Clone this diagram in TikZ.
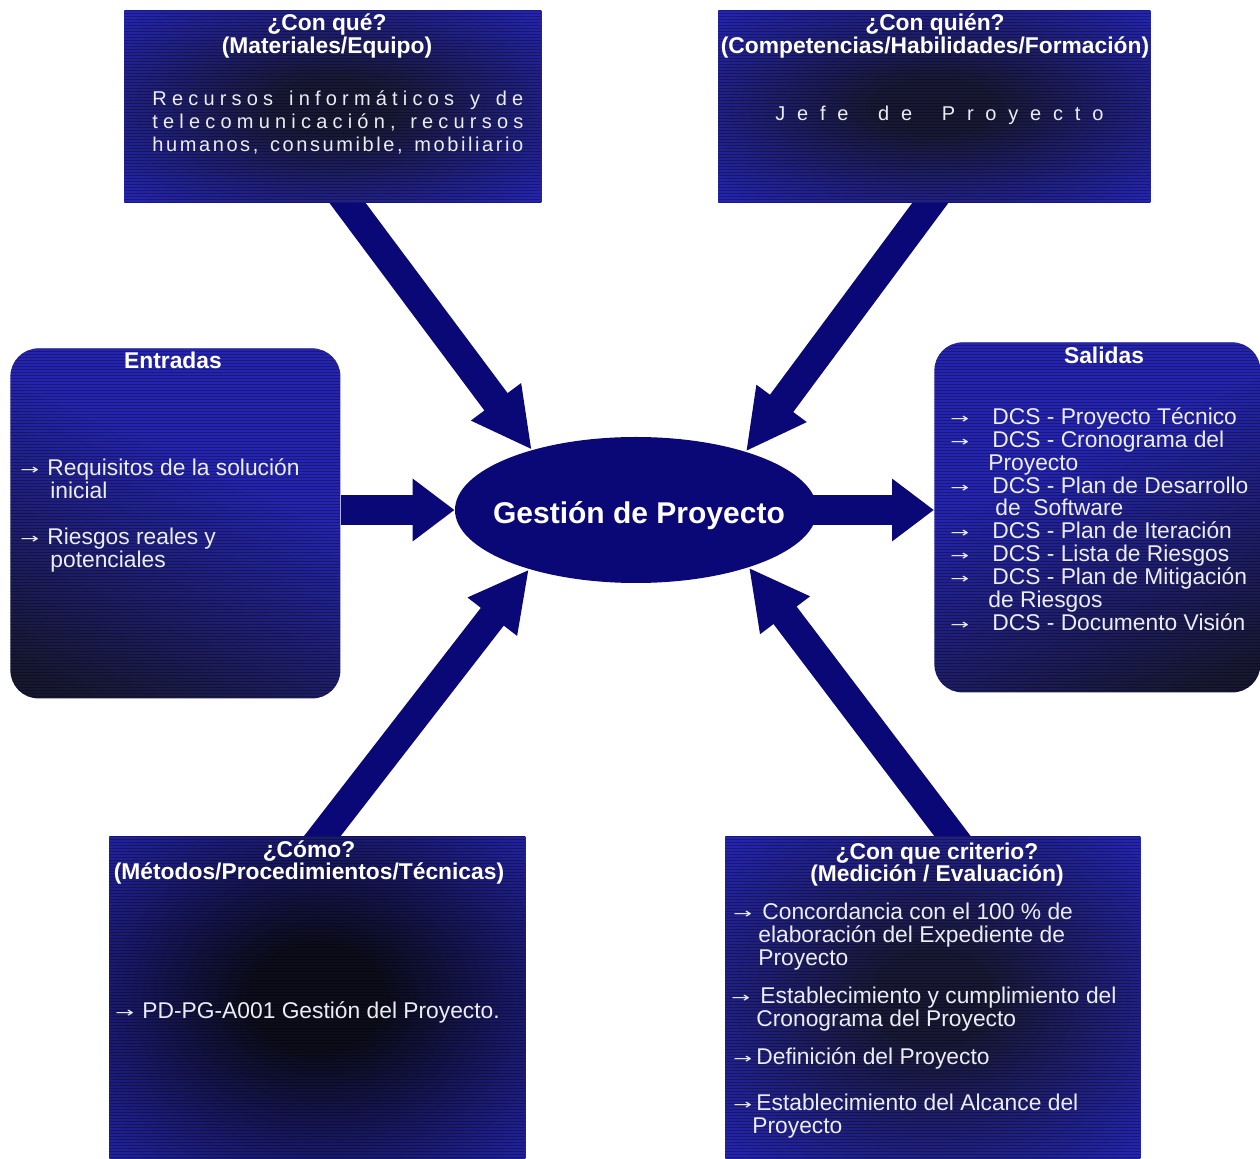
\documentclass[tikz,border=0pt]{standalone}
\usepackage{fontspec}
\usepackage{graphicx}
\setmainfont{Liberation Sans}
\newfontfamily\arrowfnt{DejaVu Sans}
\newfontfamily\wideA[LetterSpace=26]{Liberation Sans}
\newfontfamily\wideB[LetterSpace=13]{Liberation Sans}
\newfontfamily\wideC[LetterSpace=59]{Liberation Sans}
\usetikzlibrary{arrows.meta,shapes.geometric}

\definecolor{panelblue}{RGB}{36,36,176}
\definecolor{paneldark}{RGB}{24,24,52}
\definecolor{panelnight}{RGB}{12,12,26}
\definecolor{navy}{RGB}{10,8,118}
\definecolor{inktext}{RGB}{236,236,244}

% dark towards one side, blue above
\pgfdeclareverticalshading{panelfall}{100bp}{color(0bp)=(panelnight); color(22bp)=(paneldark); color(60bp)=(panelblue); color(100bp)=(panelblue)}
% dark core in the middle, blue towards the edges
\pgfdeclareradialshading{panelglow}{\pgfpointorigin}{color(0bp)=(paneldark); color(7bp)=(paneldark); color(34bp)=(panelblue); color(50bp)=(panelblue)}
\pgfdeclareradialshading{panelglowdeep}{\pgfpointorigin}{color(0bp)=(panelnight); color(8bp)=(panelnight); color(38bp)=(panelblue); color(50bp)=(panelblue)}

\pgfdeclarelayer{canvas}
\pgfdeclarelayer{links}
\pgfsetlayers{canvas,links,main}

% horizontal scan lines across a panel (used inside path picture)
\newcommand\scanlines{%
  \foreach \s in {0,1.5,...,178}{%
    \draw[scanline] ([yshift=-\s pt]path picture bounding box.north west) -- ([yshift=-\s pt]path picture bounding box.north east);}}

% small arrow bullet in front of list items
\newcommand\bul[1]{\makebox[#1][l]{\raisebox{0.6pt}{\scalebox{1.6}[1]{\arrowfnt\fontsize{7}{8}\selectfont →}}}}

\begin{document}
\begin{tikzpicture}[x=0.5pt,y=-0.5pt,
  scanline/.style={draw=black, opacity=0.3, line width=0.55pt},
  panel/.style={rectangle, inner sep=0pt, anchor=north west, shade, path picture={\scanlines}},
  core/.style={ellipse, fill=navy, inner sep=0pt, minimum width=181pt, minimum height=73pt},
  corelabel/.style={font=\fontsize{15}{17}\selectfont\bfseries, text=white, inner sep=0pt, anchor=base},
  title/.style={font=\fontsize{11.4}{12}\selectfont\bfseries, text=white, inner sep=0pt, anchor=base},
  item/.style={font=\fontsize{11.4}{12}\selectfont, text=inktext, inner sep=0pt, anchor=base west},
  spaced/.style={font=\fontsize{10}{12}\selectfont, text=inktext, inner sep=0pt, anchor=base west},
  flowdiag/.style={draw=navy, line width=14.5pt, shorten <=-8pt, -{Triangle[width=29pt,length=30pt]}},
  flowflat/.style={draw=navy, line width=15pt, -{Triangle[width=30pt,length=21pt]}},
]
\useasboundingbox (0,0) rectangle (1260,1159);
\begin{pgfonlayer}{canvas}
  \fill[white] (0,0) rectangle (1260,1159);
\end{pgfonlayer}

% ---- panels ----
\node[panel, shading=panelglow, minimum width=208.5pt, minimum height=96pt] (qbox) at (124,10) {};
\node[panel, shading=panelglow, minimum width=216pt, minimum height=96pt] (whobox) at (718,10) {};
\node[panel, shading=panelfall, shading angle=-25, rounded corners=14pt,
  minimum width=165pt, minimum height=175pt] (inbox) at (10,348) {};
\node[panel, shading=panelfall, shading angle=25, rounded corners=14pt,
  minimum width=163pt, minimum height=175pt] (outbox) at (934,342) {};
\node[panel, shading=panelglowdeep, minimum width=208pt, minimum height=161.5pt] (howbox) at (109,836) {};
\node[panel, shading=panelglow, minimum width=207.5pt, minimum height=161.5pt] (critbox) at (725,836) {};

% ---- central process ----
\node[core] (ell) at (636,510) {};
\node[corelabel] (elltext) at (639,524) {Gestión de Proyecto};

% ---- block arrows ----
\begin{pgfonlayer}{links}
  \draw[flowdiag] ([xshift=7.25pt]qbox.south) -- (ell.150);
  \draw[flowdiag] ([xshift=-2pt]whobox.south) -- (ell.28);
  \draw[flowflat] (inbox.east |- ell.west) -- (ell.west);
  \draw[flowflat, shorten <=-8pt] (ell.east) -- (ell.east -| outbox.west);
  \draw[flowdiag] ([xshift=2.5pt]howbox.north) -- (ell.-151);
  \draw[flowdiag] ([xshift=9.75pt]critbox.north) -- (ell.-27);
\end{pgfonlayer}

% ---- ¿Con qué? ----
\node[title] (q1) at (327,31) {¿Con qué?};
\node[title] (q2) at (327,54) {(Materiales/Equipo)};
\node[spaced] (q3) at (152,106) {\makebox[185.5pt][s]{\wideA Recursos informáticos y de}};
\node[spaced] (q4) at (152,129) {\makebox[185.5pt][s]{\wideA telecomunicación, recursos}};
\node[spaced] (q5) at (152,152) {\makebox[185.5pt][s]{\wideB humanos, consumible, mobiliario}};

% ---- ¿Con quién? ----
\node[title] (w1) at (935,31) {¿Con quién?};
\node[title] (w2) at (935,54) {(Competencias/Habilidades/Formación)};
\node[spaced] (w3) at (775,121) {\makebox[164pt][s]{\wideC Jefe de Proyecto}};

% ---- Entradas ----
\node[title] (i0) at (173,369) {Entradas};
\node[item] (i1) at (20,476) {\bul{13.5pt}Requisitos de la solución};
\node[item] (i1b) at (50,499) {inicial};
\node[item] (i2) at (20,545) {\bul{13.5pt}Riesgos reales y};
\node[item] (i2b) at (50,568) {potenciales};

% ---- Salidas ----
\node[title] (o0) at (1104,364) {Salidas};
\node[item] (o1) at (950,425) {\bul{21pt}DCS - Proyecto Técnico};
\node[item] (o2) at (950,448) {\bul{21pt}DCS - Cronograma del};
\node[item] (o2b) at (988,471) {Proyecto};
\node[item] (o3) at (950,494) {\bul{21pt}DCS - Plan de Desarrollo};
\node[item] (o3b) at (995,516) {de~ Software};
\node[item] (o4) at (950,539) {\bul{21pt}DCS - Plan de Iteración};
\node[item] (o5) at (950,562) {\bul{21pt}DCS - Lista de Riesgos};
\node[item] (o6) at (950,585) {\bul{21pt}DCS - Plan de Mitigación};
\node[item] (o6b) at (988,608) {de Riesgos};
\node[item] (o7) at (950,631) {\bul{21pt}DCS - Documento Visión};

% ---- ¿Cómo? ----
\node[title] (h1) at (309,858) {¿Cómo?};
\node[title] (h2) at (309,880) {(Métodos/Procedimientos/Técnicas)};
\node[item] (h3) at (115,1019) {\bul{13.5pt}PD-PG-A001 Gestión del Proyecto.};

% ---- ¿Con que criterio? ----
\node[title] (c1) at (937,860) {¿Con que criterio?};
\node[title] (c2) at (937,882) {(Medición / Evaluación)};
\node[item] (c3) at (733,920) {\bul{14.5pt}Concordancia con el 100 \% de};
\node[item] (c3b) at (758,943) {elaboración del Expediente de};
\node[item] (c3c) at (758,966) {Proyecto};
\node[item] (c4) at (731,1004) {\bul{14.5pt}Establecimiento y cumplimiento del};
\node[item] (c4b) at (756,1027) {Cronograma del Proyecto};
\node[item] (c5) at (733,1065) {\bul{11.5pt}Definición del Proyecto};
\node[item] (c6) at (733,1111) {\bul{11.5pt}Establecimiento del Alcance del};
\node[item] (c6b) at (752,1134) {Proyecto};
\end{tikzpicture}
\end{document}
